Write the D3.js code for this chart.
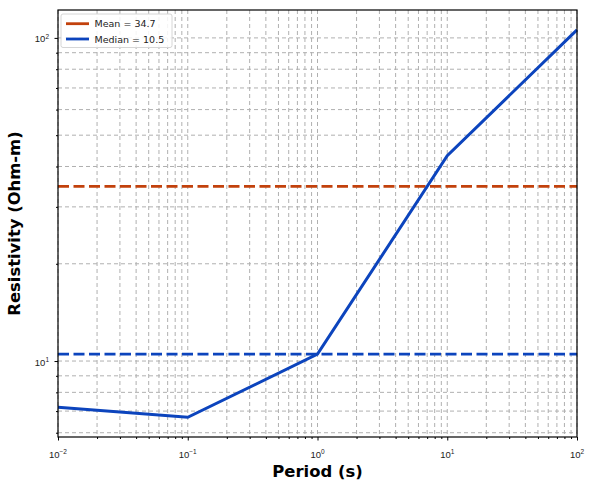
<!DOCTYPE html>
<html>
<head>
<meta charset="utf-8">
<script src="https://cdn.jsdelivr.net/npm/d3@7"></script>
<style>
body{margin:0;background:#fff;}
svg{display:block;font-family:"DejaVu Sans",sans-serif;}
.grid line{stroke:#b0b0b0;stroke-width:1;stroke-dasharray:4,3;}
.axis path,.axis line{stroke:#000;}
.axis text{font-size:9.5px;fill:#222;}
</style>
</head>
<body>
<div id="chart"></div>
<script>
// period (s) vs resistivity (Ohm-m)
var periods = [0.01, 0.1, 1, 10, 100];
var resistivity = [7.2, 6.7, 10.5, 43.2, 105.9];
var meanVal = 34.7, medianVal = 10.5;
var xDecades = [-2, -1, 0, 1, 2];
var yDecades = [1, 2];
var legendLabels = ["Mean = 34.7", "Median = 10.5"];

var W = 595, H = 491;
var margin = {left: 58, right: 18, top: 10, bottom: 54};
var lineColors = {mean: "#c2410c", median: "#0c44bd"};

var svg = d3.select("#chart").append("svg").attr("width", W).attr("height", H);
var x = d3.scaleLog().domain([0.01, 100]).range([margin.left, W - margin.right]);
var y = d3.scaleLog().domain([5.82, 122]).range([H - margin.bottom, margin.top]);

function minorTicks(lo, hi){
	var out = [];
	for (var e = lo; e <= hi; e++)
		for (var m = 1; m < 10; m++) {
			var v = m * Math.pow(10, e);
			out.push(v);
		}
	return out;
}
var xTicksAll = minorTicks(-2, 2).filter(function(v){ return v >= 0.01 && v <= 100; });
var yTicksAll = minorTicks(0, 2).filter(function(v){ return v >= 5.82 && v <= 122; });

function supLabel(sel, e){
	sel.text("10");
	sel.append("tspan").attr("dy", "-0.55em").attr("font-size", "6.5px").text(e < 0 ? "\u2212" + (-e) : e);
}

// grid
var grid = svg.append("g").attr("class", "grid");
grid.selectAll(".gx").data(xTicksAll).enter().append("line")
	.attr("x1", function(d){ return x(d); }).attr("x2", function(d){ return x(d); })
	.attr("y1", margin.top).attr("y2", H - margin.bottom);
grid.selectAll(".gy").data(yTicksAll).enter().append("line")
	.attr("y1", function(d){ return y(d); }).attr("y2", function(d){ return y(d); })
	.attr("x1", margin.left).attr("x2", W - margin.right);

// axes
var xAxis = svg.append("g").attr("class", "axis")
	.attr("transform", "translate(0," + (H - margin.bottom) + ")")
	.call(d3.axisBottom(x).tickValues(xTicksAll).tickSize(2).tickFormat(""));
xAxis.select(".domain").remove();
xAxis.selectAll(".tick line").attr("y2", function(d){ return Number.isInteger(Math.log10(d)) ? 3.5 : 2; });
xAxis.selectAll(".major").data(xDecades).enter().append("text")
	.attr("x", function(e){ return x(Math.pow(10, e)); })
	.attr("y", 20.5).attr("text-anchor", "middle")
	.each(function(e){ supLabel(d3.select(this), e); });

var yAxis = svg.append("g").attr("class", "axis")
	.attr("transform", "translate(" + margin.left + ",0)")
	.call(d3.axisLeft(y).tickValues(yTicksAll).tickSize(2).tickFormat(""));
yAxis.select(".domain").remove();
yAxis.selectAll(".tick line").attr("x2", function(d){ return Number.isInteger(Math.log10(d)) ? -3.5 : -2; });
yAxis.selectAll(".major").data(yDecades).enter().append("text")
	.attr("x", -9).attr("y", function(e){ return y(Math.pow(10, e)) + 4.5; })
	.attr("text-anchor", "end")
	.each(function(e){ supLabel(d3.select(this), e); });

// reference lines
svg.append("line").attr("x1", margin.left).attr("x2", W - margin.right)
	.attr("y1", y(meanVal)).attr("y2", y(meanVal))
	.attr("stroke", lineColors.mean).attr("stroke-width", 2.8).attr("stroke-dasharray", "11,4.5");
svg.append("line").attr("x1", margin.left).attr("x2", W - margin.right)
	.attr("y1", y(medianVal)).attr("y2", y(medianVal))
	.attr("stroke", lineColors.median).attr("stroke-width", 2.8).attr("stroke-dasharray", "11,4.5");

// curve
var line = d3.line().x(function(d){ return x(d[0]); }).y(function(d){ return y(d[1]); });
svg.append("path").datum(d3.zip(periods, resistivity))
	.attr("d", line).attr("fill", "none")
	.attr("stroke", lineColors.median).attr("stroke-width", 3);

// frame
svg.append("rect").attr("x", margin.left).attr("y", margin.top)
	.attr("width", W - margin.left - margin.right).attr("height", H - margin.top - margin.bottom)
	.attr("fill", "none").attr("stroke", "#000").attr("stroke-width", 1.2);

// legend
var lg = svg.append("g").attr("transform", "translate(61,14)");
lg.append("rect").attr("width", 111).attr("height", 33.5).attr("rx", 2)
	.attr("fill", "#fff").attr("fill-opacity", 0.85).attr("stroke", "#d6d6d6");
lg.selectAll(".item").data(legendLabels).enter().append("g")
	.attr("transform", function(d, i){ return "translate(5," + (9.7 + i * 15.3) + ")"; })
	.each(function(d, i){
		var g = d3.select(this);
		g.append("line").attr("x1", 0).attr("x2", 23).attr("stroke-width", 2.8)
			.attr("stroke", i ? lineColors.median : lineColors.mean);
		g.append("text").attr("x", 28.5).attr("y", 3.5).attr("font-size", "9.5px").attr("fill", "#222").text(d);
	});

// labels
svg.append("text").attr("x", (margin.left + W - margin.right) / 2).attr("y", 477)
	.attr("text-anchor", "middle").attr("font-size", "16.4px").attr("font-weight", "bold").text("Period (s)");
svg.append("text").attr("transform", "translate(20," + ((margin.top + H - margin.bottom) / 2) + ") rotate(-90)")
	.attr("text-anchor", "middle").attr("font-size", "16.4px").attr("font-weight", "bold").text("Resistivity (Ohm-m)");
</script>
</body>
</html>
